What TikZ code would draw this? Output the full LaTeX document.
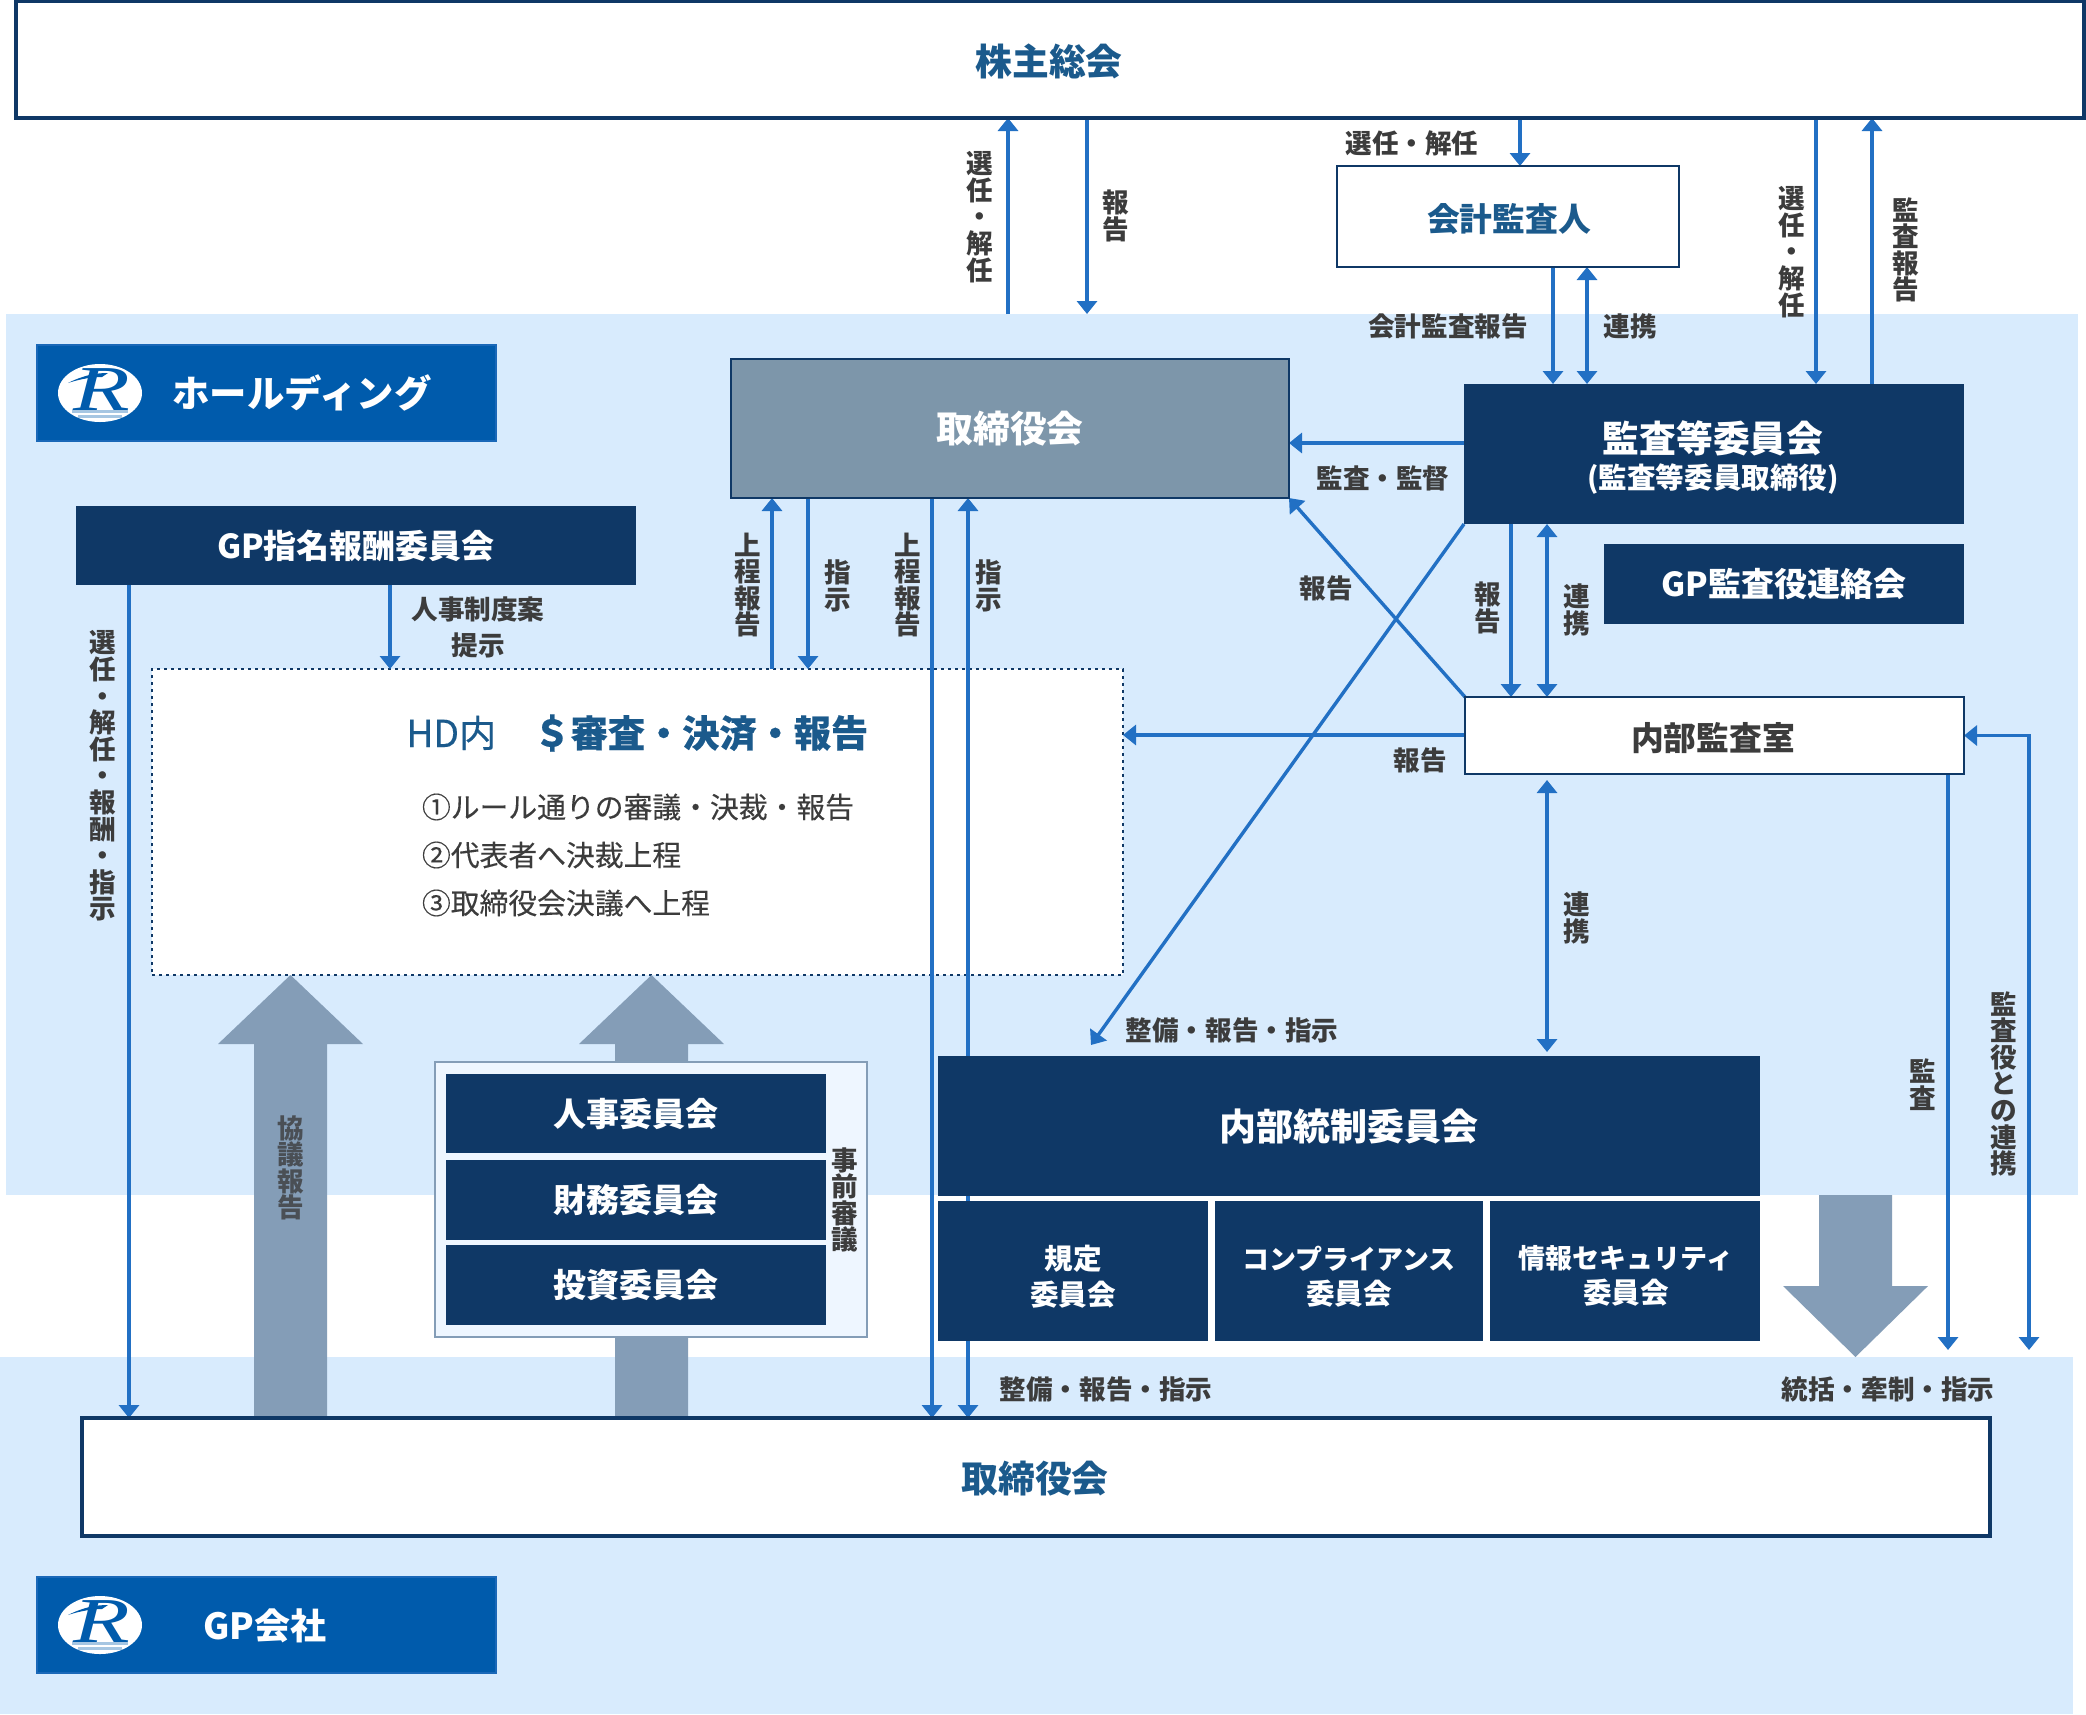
\documentclass[tikz,border=0pt]{standalone}
\usepackage{fontspec}
\usetikzlibrary{arrows.meta,calc}
\setmainfont{Noto Sans CJK JP}
\newfontfamily\midfont[FakeBold=0.25]{Noto Sans CJK JP}
\newfontfamily\logofont{Liberation Serif}
\definecolor{band}{HTML}{D8EBFD}
\definecolor{darkbox}{HTML}{0F3866}
\definecolor{linkblue}{HTML}{2270C4}
\definecolor{labelgray}{HTML}{3C3C3C}
\definecolor{titleblue}{HTML}{1B5A8C}
\definecolor{bigarrow}{HTML}{849DB7}
\definecolor{brand}{HTML}{005BAC}
\definecolor{brandedge}{HTML}{1A68B8}
\definecolor{boardgray}{HTML}{7D96AA}
\definecolor{panelfill}{HTML}{EEF6FF}
\pgfdeclarelayer{back}
\pgfdeclarelayer{mid}
\pgfsetlayers{back,mid,main}
\newcommand{\fpx}[1]{\fontsize{#1pt}{#1pt}\selectfont}
\makeatletter
\newcommand{\vv}[1]{\vbox{\offinterlineskip\@tfor\vvch:=#1\do{\hbox to 13.3pt{\hss\smash{\vvch}\hss\rule[-1.7pt]{0pt}{13.3pt}}}}}
\makeatother
% \bx{name}{x1}{y1}{x2}{y2}{style}{text}
\newcommand{\bx}[7]{\node[#6,minimum width={(#4-#2)*0.5pt},minimum height={(#5-#3)*0.5pt}] (#1) at ({(#2+#4)/2},{(#3+#5)/2}) {#7};}
\tikzset{
 boxbase/.style={rectangle,inner sep=0pt,outer sep=0pt,align=center},
 darkb/.style={boxbase,fill=darkbox,text=white,font=\bfseries\fpx{16.5}},
 whiteb/.style={boxbase,fill=white,draw=darkbox,line width=1pt},
 thickb/.style={whiteb,line width=1.7pt},
 brandb/.style={boxbase,fill=brand,draw=brandedge,line width=1pt},
 title/.style={inner sep=0pt,outer sep=0pt,text=titleblue,font=\bfseries\fpx{18.4}},
 lab/.style={inner sep=0pt,outer sep=0pt,text=labelgray,font=\bfseries\fpx{13.3}},
 bodytext/.style={inner sep=0pt,outer sep=0pt,anchor=west,text=labelgray,font=\midfont\fpx{14.4}},
 intext/.style={inner sep=0pt,outer sep=0pt,text=white,align=center,font=\bfseries\fpx{14.3}},
 conn/.style={draw=linkblue,line width=1.7pt},
 one/.style={conn,-{Triangle[length=6.5pt,width=10pt]}},
 both/.style={conn,{Triangle[length=6.5pt,width=10pt]}-{Triangle[length=6.5pt,width=10pt]}},
 big/.style={fill=bigarrow,draw=none},
}
\newcommand{\logomark}[2]{%
 \fill[white] (#1,#2) ellipse (42 and 29);
 \fill[brand!35!white] ({#1-28},{#2+17}) rectangle ({#1+28},{#2+20});
 \fill[brand!35!white] ({#1-22},{#2+22}) rectangle ({#1+22},{#2+25});
 \node[inner sep=0pt,text=brand,xscale=1.45,font=\logofont\itshape\fpx{32}] (logo#2) at ({#1+2},{#2-3}) {R};
 \fill[brand] ({#1-32},{#2-10}) .. controls ({#1-16},{#2-18}) and ({#1-4},{#2-20}) .. ({#1+8},{#2-20}) -- ({#1+2},{#2-16}) .. controls ({#1-8},{#2-16}) and ({#1-20},{#2-14}) .. cycle;}
\begin{document}
\begin{tikzpicture}[x=0.5pt,y=-0.5pt]
\useasboundingbox (0,0) rectangle (2086,1714);
\begin{pgfonlayer}{back}
 \fill[white] (0,0) rectangle (2086,1714);
 \fill[band] (6,314) rectangle (2078,1195);
 \fill[band] (0,1357) rectangle (2073,1714);
 \bx{hd}{152}{669}{1123}{975}{boxbase,fill=white,draw=darkbox,line width=1pt,dash pattern=on 1.5pt off 2pt}{}
 \fill[big] (254,1418)--(254,1044)--(218,1044)--(290.5,975)--(363,1044)--(327,1044)--(327,1418)--cycle;
 \fill[big] (615,1418)--(615,1044)--(579,1044)--(651.5,975)--(724,1044)--(688,1044)--(688,1418)--cycle;
 \fill[big] (1819,1195)--(1892,1195)--(1892,1286)--(1928,1286)--(1855.5,1357)--(1783,1286)--(1819,1286)--cycle;
 \bx{panel}{435}{1062}{867}{1337}{boxbase,fill=panelfill,draw=bigarrow,line width=1pt}{}
\end{pgfonlayer}
% boxes
\bx{soukai}{16}{1}{2084}{118}{thickb}{}
\bx{kaikei}{1337}{166}{1679}{267}{whiteb}{}
\bx{holding}{37}{345}{496}{441}{brandb}{}
\bx{gpco}{37}{1577}{496}{1673}{brandb}{}
\bx{boardtop}{731}{359}{1289}{498}{boxbase,fill=boardgray,draw=darkbox,line width=0.8pt,text=white,font=\bfseries\fpx{18.4}}{取締役会}
\bx{kansa}{1464}{384}{1964}{524}{darkb}{}
\bx{gpkansa}{1604}{544}{1964}{624}{darkb}{GP監査役連絡会}
\bx{naibu}{1465}{697}{1964}{774}{whiteb}{}
\bx{gpshimei}{76}{506}{636}{585}{darkb}{GP指名報酬委員会}
\bx{jinji}{446}{1074}{826}{1153}{darkb}{人事委員会}
\bx{zaimu}{446}{1160}{826}{1240}{darkb}{財務委員会}
\bx{toshi}{446}{1245}{826}{1325}{darkb}{投資委員会}
\bx{tousei}{938}{1056}{1760}{1196}{darkb,font=\bfseries\fpx{18.5}}{内部統制委員会}
\bx{kitei}{938}{1201}{1208}{1341}{darkb}{}
\bx{compl}{1215}{1201}{1483}{1341}{darkb}{}
\bx{joho}{1490}{1201}{1760}{1341}{darkb}{}
\bx{boardgp}{82}{1418}{1990}{1536}{thickb}{}
\node[title] (soukaiT) at (1049,61) {株主総会};
\node[title,font=\bfseries\fpx{16.4}] (kaikeiT) at (1509,219) {会計監査人};
\node[title,text=labelgray,font=\bfseries\fpx{16.4}] (naibuT) at (1713,738) {内部監査室};
\node[title] (boardgpT) at (1035,1479) {取締役会};
\node[intext] (kit1) at (1073,1259) {規定};
\node[intext] (kit2) at (1073,1295) {委員会};
\node[intext,font=\bfseries\fpx{13.5}] (com1) at (1349,1259) {コンプライアンス};
\node[intext] (com2) at (1349,1294) {委員会};
\node[intext,font=\bfseries\fpx{13.5}] (joh1) at (1626,1258) {情報セキュリティ};
\node[intext] (joh2) at (1626,1293) {委員会};
% free ends
\coordinate (bandtopA) at (1008,314);
\coordinate (bandtopB) at (1087,314);
\coordinate (endA) at (1948,1350);
\coordinate (endB) at (2029,1350);
\coordinate (diagEnd) at (1091,1045);
\begin{pgfonlayer}{mid}
 \draw[one] (bandtopA) -- (1008,0 |- soukai.south);
 \draw[one] (1087,0 |- soukai.south) -- (bandtopB);
 \draw[one] (1520,0 |- soukai.south) -- (1520,0 |- kaikei.north);
 \draw[one] (1816,0 |- soukai.south) -- (1816,0 |- kansa.north);
 \draw[one] (1872,0 |- kansa.north) -- (1872,0 |- soukai.south);
 \draw[one] (1553,0 |- kaikei.south) -- (1553,0 |- kansa.north);
 \draw[both] (1587,0 |- kaikei.south) -- (1587,0 |- kansa.north);
 \draw[one] (kansa.west |- 0,443) -- (boardtop.east |- 0,443);
 \draw[one] (naibu.north west) -- (boardtop.south east);
 \draw[one] (kansa.south west) -- (diagEnd);
 \draw[one] (1511,0 |- kansa.south) -- (1511,0 |- naibu.north);
 \draw[both] (1547,0 |- kansa.south) -- (1547,0 |- naibu.north);
 \draw[one] (naibu.west |- 0,735) -- (hd.east |- 0,735);
 \draw[both] (1547,780) -- (1547,1052);
 \draw[one] (1948,0 |- naibu.south) -- (endA);
 \draw[both] (endB) -- (2029,0 |- naibu.east) -- (naibu.east);
 \draw[one] (772,0 |- hd.north) -- (772,0 |- boardtop.south);
 \draw[one] (808,0 |- boardtop.south) -- (808,0 |- hd.north);
 \draw[one] (932,0 |- boardtop.south) -- (932,0 |- boardgp.north);
 \draw[both] (968,0 |- boardtop.south) -- (968,0 |- boardgp.north);
 \draw[one] (390,0 |- gpshimei.south) -- (390,0 |- hd.north);
 \draw[one] (129,0 |- gpshimei.south) -- (129,0 |- boardgp.north);
\end{pgfonlayer}
% logos
\logomark{100}{393}
\logomark{100}{1625}
\node[inner sep=0pt,text=white,font=\bfseries\fpx{18.7}] (t1) at (302,393) {ホールディング};
\node[inner sep=0pt,text=white,font=\bfseries\fpx{18}] (t2) at (265,1626) {GP会社};
% kansa text
\node[inner sep=0pt,text=white,font=\bfseries\fpx{18.4}] (t3) at (1713,438) {監査等委員会};
\node[inner sep=0pt,text=white,font=\bfseries\fpx{14.3}] (t4) at (1713,479) {(監査等委員取締役)};
% HD text
\node[inner sep=0pt,anchor=west,text=titleblue,font=\midfont\fpx{18.6}] (hdt) at (406,733) {HD内　{\bfseries ＄審査・決済・報告}};
\node[bodytext] (b1) at (422,807) {①ルール通りの審議・決裁・報告};
\node[bodytext] (b2) at (422,855) {②代表者へ決裁上程};
\node[bodytext] (b3) at (422,903) {③取締役会決議へ上程};
% horizontal labels
\node[lab] (l1) at (1412,143) {選任・解任};
\node[lab] (l2) at (1448,326) {会計監査報告};
\node[lab] (l3) at (1630,326) {連携};
\node[lab] (l4) at (1383,478) {監査・監督};
\node[lab] (l5) at (478,609) {人事制度案};
\node[lab] (l6) at (478,645) {提示};
\node[lab] (l7) at (1326,588) {報告};
\node[lab] (l8) at (1420,760) {報告};
\node[lab] (l9) at (1232,1030) {整備・報告・指示};
\node[lab] (l10) at (1106,1389) {整備・報告・指示};
\node[lab] (l11) at (1888,1389) {統括・牽制・指示};
% vertical labels
\node[lab] (v1) at (980,217) {\vv{選任・解任}};
\node[lab] (v2) at (1116,216) {\vv{報告}};
\node[lab] (v3) at (1792,252) {\vv{選任・解任}};
\node[lab] (v4) at (1906,250) {\vv{監査報告}};
\node[lab] (v5) at (748,585) {\vv{上程報告}};
\node[lab] (v6) at (838,586) {\vv{指示}};
\node[lab] (v7) at (908,585) {\vv{上程報告}};
\node[lab] (v8) at (989,586) {\vv{指示}};
\node[lab] (v9) at (1488,608) {\vv{報告}};
\node[lab] (v10) at (1577,610) {\vv{連携}};
\node[lab] (v11) at (1577,918) {\vv{連携}};
\node[lab] (v12) at (1923,1085) {\vv{監査}};
\node[lab] (v13) at (2004,1084) {\vv{監査役との連携}};
\node[lab] (v14) at (103,776) {\vv{選任・解任・報酬・指示}};
\node[lab,text=labelgray!80!bigarrow] (v15) at (291,1168) {\vv{協議報告}};
\node[lab] (v16) at (845,1200) {\vv{事前審議}};
\end{tikzpicture}
\end{document}
